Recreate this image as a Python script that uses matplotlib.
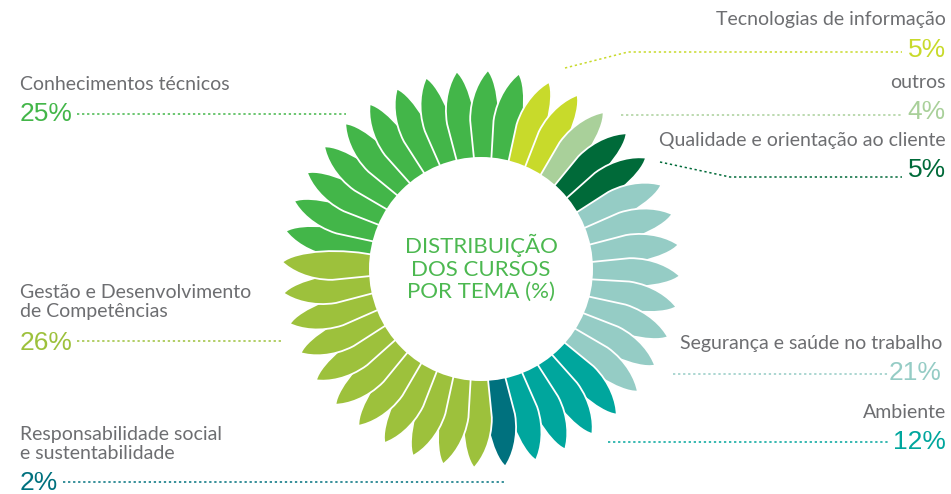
import numpy as np
import matplotlib
matplotlib.use('Agg')
import matplotlib.pyplot as plt
from matplotlib.path import Path
from matplotlib.patches import PathPatch, Circle

# Themes, clockwise from the top-left
temas = ['Conhecimentos técnicos', 'Tecnologias de informação', 'outros',
         'Qualidade e orientação ao cliente', 'Segurança e saúde no trabalho',
         'Ambiente', 'Responsabilidade social\ne sustentabilidade',
         'Gestão e Desenvolvimento\nde Competências']
percent = [25, 5, 4, 5, 21, 12, 2, 26]
petalas = [11, 2, 1, 2, 8, 4, 1, 11]   # petals per theme as drawn
cores = ['#43b649', '#c8da2b', '#a9d09a', '#006a39',
         '#95ccc5', '#00a69d', '#00717e', '#9dc13c']

GRAY = '#6d6e71'
LABEL_FONT = ['Lato', 'DejaVu Sans']
PCT_FONT = ['Liberation Sans', 'DejaVu Sans']

fig = plt.figure(figsize=(9.51, 4.94), dpi=100)
ax = fig.add_axes([0, 0, 1, 1])
ax.set_xlim(0, 951)
ax.set_ylim(494, 0)
ax.axis('off')

cx, cy = 481, 269
r_in = 112
step = 9.0
start = 169.0   # angle of first green petal tip (deg, counter-clockwise)

# petal outline in local coords: x radial, y tangential (+ = ccw)
verts = [(100, -9), (100, 9.5), (148, 16),
         (172, 17), (190, 8), (199, 0),
         (186, -12), (140, -17), (100, -9), (100, -9)]
codes = [Path.MOVETO, Path.LINETO, Path.LINETO,
         Path.CURVE4, Path.CURVE4, Path.CURVE4,
         Path.CURVE4, Path.CURVE4, Path.CURVE4, Path.CLOSEPOLY]
local = np.array(verts, dtype=float)

k = 0
for n, c in zip(petalas, cores):
    for i in range(n):
        th = np.radians(start - step * k)
        xs = cx + local[:, 0] * np.cos(th) - local[:, 1] * np.sin(th)
        ys = cy - (local[:, 0] * np.sin(th) + local[:, 1] * np.cos(th))
        ax.add_patch(PathPatch(Path(np.column_stack([xs, ys]), codes),
                               facecolor=c, edgecolor='white', lw=1.3))
        k += 1

ax.add_patch(Circle((cx, cy), r_in, facecolor='white', edgecolor='none', zorder=3))
ax.text(cx, cy - 1, 'DISTRIBUIÇÃO\nDOS CURSOS\nPOR TEMA (%)', ha='center', va='center',
        color='#4cb850', fontsize=16, family=LABEL_FONT,
        linespacing=1.15, zorder=4)

# label layout: (text x, label y, pct y, alignment, leader points)
layout = [
    (20, 85, 114, 'left', [(77, 114), (346, 114)]),
    (946, 20, 50, 'right', [(565, 68), (628, 52), (902, 52)]),
    (946, 83, 112, 'right', [(621, 115), (902, 115)]),
    (946, 140, 170, 'right', [(660, 162), (730, 177), (902, 177)]),
    (942, 343, 373, 'right', [(673, 374), (888, 374)]),
    (946, 412, 442, 'right', [(608, 442), (888, 442)]),
    (20, 444, 483, 'left', [(63, 482), (505, 482)]),
    (20, 302, 343, 'left', [(77, 341), (282, 341)]),
]

for t, p, c, (x, ly, py, ha, pts) in zip(temas, percent, cores, layout):
    ax.text(x, ly, t, ha=ha, va='center', color=GRAY, fontsize=14,
            family=LABEL_FONT, linespacing=1.1)
    ax.text(x, py, f'{p}%', ha=ha, va='center', color=c, fontsize=19,
            family=PCT_FONT)
    px, py2 = zip(*pts)
    ax.plot(px, py2, color=c, lw=1.1, ls=(0, (1.5, 1.8)))

fig.savefig('out.png', dpi=100)
